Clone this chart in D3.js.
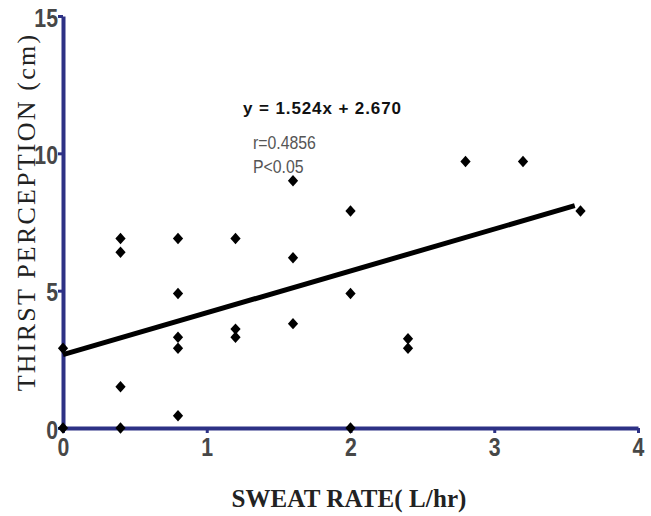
<!DOCTYPE html>
<html>
<head>
<meta charset="utf-8">
<script src="https://cdn.jsdelivr.net/npm/d3@7"></script>
<style>
  html, body { margin: 0; padding: 0; background: #ffffff; }
  svg { display: block; }
</style>
</head>
<body>
<svg id="chart" width="651" height="516"></svg>
<script>
// ---- data ----
const sweatRate = [0, 0, 0.4, 0.4, 0.4, 0.4, 0.8, 0.8, 0.8, 0.8, 0.8, 1.2, 1.2, 1.2, 1.6, 1.6, 1.6, 2.0, 2.0, 2.0, 2.4, 2.4, 2.8, 3.2, 3.6];
const thirst    = [2.9, 0, 6.9, 6.4, 1.5, 0, 6.9, 4.9, 3.3, 2.9, 0.45, 6.9, 3.6, 3.3, 9.0, 6.2, 3.8, 7.9, 4.9, 0, 3.25, 2.9, 9.7, 9.7, 7.9];
const xTicks = [0, 1, 2, 3, 4];
const yTicks = [0, 5, 10, 15];
const slope = 1.524;
const intercept = 2.670;
const fitRange = [0, 3.56];
const equationLabel = "y = 1.524x + 2.670";
const statLabels = ["r=0.4856", "P<0.05"];
const xTitle = "SWEAT RATE( L/hr)";
const yTitle = "THIRST PERCEPTION (cm)";

const axisColor = "#2d3185";
const svg = d3.select("#chart");

const x = d3.scaleLinear().domain([0, 4]).range([63, 638]);
const y = d3.scaleLinear().domain([0, 15]).range([428, 16]);

const tickFont = "'Liberation Sans', Arial, sans-serif";

// x axis
const gx = svg.append("g").attr("transform", `translate(0,${y(0)})`)
  .call(d3.axisBottom(x).tickValues(xTicks).tickFormat(d3.format("d")).tickSize(5).tickSizeOuter(0).tickPadding(10));
gx.select(".domain").attr("stroke", axisColor).attr("stroke-width", 4);
gx.selectAll(".tick line").attr("stroke", axisColor).attr("stroke-width", 3);
gx.selectAll(".tick text")
  .attr("font-family", tickFont).attr("font-weight", "bold").attr("font-size", 25)
  .attr("fill", "#474747")
  .attr("y", 0).attr("dy", null)
  .attr("transform", "translate(0,28) scale(0.85,1)");

// y axis
const gy = svg.append("g").attr("transform", `translate(${x(0)},0)`)
  .call(d3.axisLeft(y).tickValues(yTicks).tickFormat(d3.format("d")).tickSize(5).tickSizeOuter(0));
gy.select(".domain").attr("stroke", axisColor).attr("stroke-width", 4);
gy.selectAll(".tick line").attr("stroke", axisColor).attr("stroke-width", 3);
gy.selectAll(".tick text")
  .attr("font-family", tickFont).attr("font-weight", "bold").attr("font-size", 25)
  .attr("fill", "#474747")
  .attr("x", 0).attr("dy", null)
  .attr("transform", "translate(-5,10) scale(0.85,1)");

// regression line
const fitLine = d3.line().x(d => x(d)).y(d => y(slope * d + intercept));
svg.append("path")
  .datum(fitRange)
  .attr("d", fitLine)
  .attr("fill", "none")
  .attr("stroke", "#000")
  .attr("stroke-width", 5);

// diamond symbol
const diamond = {
  draw(ctx, size) {
    const w = Math.sqrt(size) * 0.5, h = Math.sqrt(size) * 0.56;
    ctx.moveTo(0, -h); ctx.lineTo(w, 0); ctx.lineTo(0, h); ctx.lineTo(-w, 0); ctx.closePath();
  }
};
const sym = d3.symbol().type(diamond).size(105);
svg.append("g").selectAll("path")
  .data(sweatRate.map((v, i) => [v, thirst[i]]))
  .join("path")
  .attr("transform", d => `translate(${x(d[0])},${y(d[1])})`)
  .attr("d", sym)
  .attr("fill", "#000");

// annotations
svg.append("text")
  .attr("x", 243).attr("y", 114)
  .attr("font-family", "'Liberation Sans', Arial, sans-serif")
  .attr("font-weight", "bold").attr("font-size", 17)
  .attr("textLength", 158).attr("lengthAdjust", "spacing")
  .attr("fill", "#111")
  .text(equationLabel);

svg.append("g").selectAll("text")
  .data(statLabels)
  .join("text")
  .attr("x", 253).attr("y", (d, i) => 149 + i * 24)
  .attr("font-family", "'Liberation Sans', Arial, sans-serif")
  .attr("font-size", 18)
  .attr("fill", "#555")
  .attr("transform-origin", "253 0")
  .attr("transform", "scale(0.88,1)")
  .text(d => d);

// axis titles
svg.append("text")
  .attr("x", 349).attr("y", 507)
  .attr("text-anchor", "middle")
  .attr("font-family", "'Liberation Serif', 'Times New Roman', serif")
  .attr("font-weight", "bold").attr("font-size", 25)
  .attr("letter-spacing", 0.1)
  .attr("fill", "#222")
  .text(xTitle);

svg.append("text")
  .attr("transform", "translate(35,212) rotate(-90)")
  .attr("text-anchor", "middle")
  .attr("font-family", "'Liberation Serif', 'Times New Roman', serif")
  .attr("font-size", 26)
  .attr("letter-spacing", 2.2)
  .attr("fill", "#222")
  .text(yTitle);
</script>
</body>
</html>
